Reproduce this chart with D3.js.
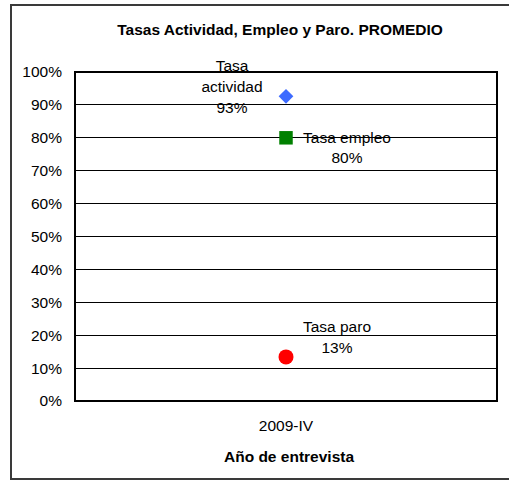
<!DOCTYPE html>
<html>
<head>
<meta charset="utf-8">
<script src="https://cdn.jsdelivr.net/npm/d3@7"></script>
<style>
  body { margin: 0; background: #fff; }
  svg { display: block; font-family: Arial, "Liberation Sans", sans-serif; }
</style>
</head>
<body>
<svg id="chart" width="509" height="481"></svg>
<script>
// chart data
const categories = ["2009-IV"];
const seriesNames = ["Tasa actividad", "Tasa empleo", "Tasa paro"];
const seriesValues = [0.926, 0.80, 0.134];
const labelLines = [["Tasa", "actividad"], ["Tasa empleo"], ["Tasa paro"]];
const yTicks = [0, 0.1, 0.2, 0.3, 0.4, 0.5, 0.6, 0.7, 0.8, 0.9, 1.0];

const titleText = "Tasas Actividad, Empleo y Paro. PROMEDIO";
const xTitleText = "Año de entrevista";

// layout
const plot = { left: 75, right: 497, top: 72, bottom: 401 };
const fontSize = 15.5;

// marker styles and label placement per series
const markerStyle = [
  { symbol: d3.symbolSquare, size: 108, rotate: 45, color: "#3d6bff" },
  { symbol: d3.symbolSquare, size: 182, rotate: 0, color: "#008000" },
  { symbol: d3.symbolCircle, size: 177, rotate: 0, color: "#ff0000" }
];
const labelOffset = [
  { dx: -54, dy: -25, lh: 21 },
  { dx: 61, dy: 5, lh: 20 },
  { dx: 51, dy: -25, lh: 21 }
];

const svg = d3.select("#chart");
const fmt = d3.format(".0%");

const x = d3.scaleBand().domain(categories).range([plot.left, plot.right]);
const y = d3.scaleLinear().domain([0, 1]).range([plot.bottom, plot.top]);

// outer frame (chart is cropped on the right)
svg.append("rect")
  .attr("x", 11).attr("y", 5)
  .attr("width", 520).attr("height", 474)
  .attr("fill", "#fff")
  .attr("stroke", "#3a3a3a")
  .attr("stroke-width", 2);

// title
svg.append("text")
  .attr("x", 280).attr("y", 35)
  .attr("text-anchor", "middle")
  .style("font-size", fontSize + "px")
  .style("font-weight", "bold")
  .text(titleText);

// gridlines
svg.append("g")
  .selectAll("line")
  .data(yTicks.slice(1, -1))
  .join("line")
  .attr("x1", plot.left).attr("x2", plot.right)
  .attr("y1", d => y(d)).attr("y2", d => y(d))
  .attr("stroke", "#000")
  .attr("stroke-width", 1)
  .attr("shape-rendering", "crispEdges");

// plot border
svg.append("rect")
  .attr("x", plot.left).attr("y", plot.top)
  .attr("width", plot.right - plot.left)
  .attr("height", plot.bottom - plot.top)
  .attr("fill", "none")
  .attr("stroke", "#000")
  .attr("stroke-width", 2);

// y axis
const yAxis = svg.append("g")
  .attr("transform", `translate(${plot.left},0)`)
  .call(d3.axisLeft(y).tickValues(yTicks).tickFormat(fmt).tickSize(0).tickPadding(13));
yAxis.select(".domain").remove();
yAxis.selectAll("text")
  .style("font-size", fontSize + "px")
  .style("font-family", "Arial, 'Liberation Sans', sans-serif")
  .attr("fill", "#000");

// x axis
const xAxis = svg.append("g")
  .attr("transform", `translate(0,${plot.bottom})`)
  .call(d3.axisBottom(x).tickSize(0).tickPadding(19));
xAxis.select(".domain").remove();
xAxis.selectAll("text")
  .style("font-size", fontSize + "px")
  .style("font-family", "Arial, 'Liberation Sans', sans-serif")
  .attr("fill", "#000");

// x axis title
svg.append("text")
  .attr("x", 289).attr("y", 462)
  .attr("text-anchor", "middle")
  .style("font-size", fontSize + "px")
  .style("font-weight", "bold")
  .text(xTitleText);

// markers
const cx = x(categories[0]) + x.bandwidth() / 2;
svg.append("g")
  .selectAll("path")
  .data(seriesValues)
  .join("path")
  .attr("d", (d, i) => d3.symbol().type(markerStyle[i].symbol).size(markerStyle[i].size)())
  .attr("transform", (d, i) => `translate(${cx},${y(d)}) rotate(${markerStyle[i].rotate})`)
  .attr("fill", (d, i) => markerStyle[i].color);

// data labels
const labels = svg.append("g")
  .selectAll("text")
  .data(seriesValues)
  .join("text")
  .attr("text-anchor", "middle")
  .style("font-size", fontSize + "px")
  .attr("fill", "#000");

labels.each(function(d, i) {
  const lines = labelLines[i].concat([fmt(d)]);
  const off = labelOffset[i];
  d3.select(this).selectAll("tspan")
    .data(lines)
    .join("tspan")
    .attr("x", cx + off.dx)
    .attr("y", (t, j) => y(d) + off.dy + j * off.lh)
    .text(t => t);
});
</script>
</body>
</html>
